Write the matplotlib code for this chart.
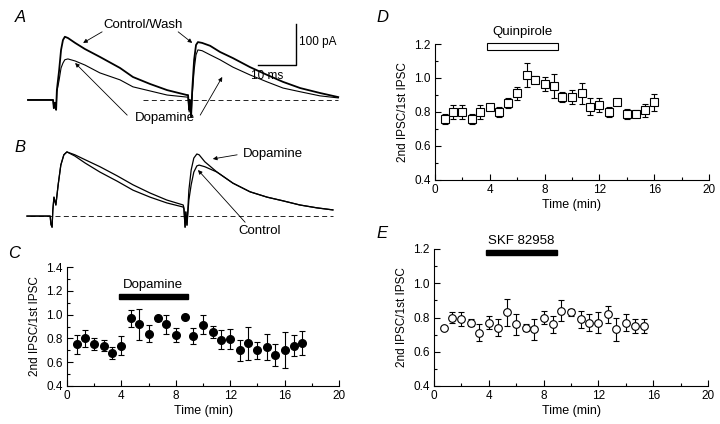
import numpy as np
import matplotlib
matplotlib.use('Agg')
from matplotlib import pyplot as plt
from matplotlib.patches import Rectangle

plt.rcParams['font.family'] = ['Liberation Sans', 'DejaVu Sans']
plt.rcParams['font.size'] = 8.5

# ---- traces (ms, pA) ----
tA = [0, 5.8, 6.6, 6.8, 7.1, 7.4, 7.6, 8.2, 8.7, 9.2, 9.7, 10.5, 12.4, 15.0, 18.9, 24.2, 27.6,
      32.1, 36.6, 41.8, 42.1, 42.4, 42.6, 42.9, 43.2, 43.7, 44.2, 44.7, 45.8, 47.9, 50.5, 53.9,
      58.4, 62.9, 67.1, 71.6, 76.8, 81.6]
a_control = [0, 0, 0, -20, -7, -24, 24, 73, 122, 146, 154, 151, 139, 124, 105, 78, 56,
             39, 24, 12, 12, -24, 0, -41, 24, 98, 134, 141, 139, 132, 117, 102,
             80, 61, 44, 29, 17, 7]
a_dopamine = [0, 0, 0, -20, -7, -24, 20, 49, 78, 90, 98, 100, 95, 85, 66, 49, 32,
              22, 12, 7, 7, -29, -5, -41, 12, 73, 110, 122, 120, 110, 98, 80,
              61, 44, 29, 20, 10, 5]

tB = [0, 5.5, 6.1, 6.3, 6.6, 6.8, 7.1, 7.6, 8.2, 8.9, 9.7, 10.5, 12.6, 15.3, 19.2, 23.7, 27.9,
      32.4, 36.8, 41.1, 41.3, 41.6, 41.8, 42.1, 42.6, 43.2, 43.9, 44.7, 45.3, 46.8, 50.0, 54.2,
      58.7, 63.2, 67.4, 71.8, 76.3, 80.5]
b_control = [0, 0, 0, -20, -27, 15, 46, 27, 76, 124, 149, 156, 149, 137, 120, 98, 76,
             56, 39, 27, 20, -27, 10, -22, 39, 76, 107, 122, 124, 120, 107, 80,
             59, 46, 37, 27, 20, 15]
b_dopamine = [0, 0, 0, -20, -27, 15, 46, 27, 76, 124, 149, 156, 146, 129, 107, 85, 63,
              46, 32, 22, 17, -27, 10, -22, 63, 112, 141, 151, 149, 132, 107, 80,
              59, 46, 37, 27, 20, 15]

# ---- paired-pulse ratios (min) ----
c_time = [0.7, 1.3, 2.0, 2.7, 3.3, 4.0, 4.7, 5.3, 6.0, 6.7, 7.3, 8.0, 8.7,
          9.3, 10.0, 10.7, 11.3, 12.0, 12.7, 13.3, 14.0, 14.7, 15.3, 16.0, 16.7, 17.3]
c_ratio = [0.75, 0.80, 0.75, 0.74, 0.68, 0.74, 0.97, 0.92, 0.84, 0.97, 0.92, 0.83, 0.98,
           0.82, 0.915, 0.855, 0.79, 0.795, 0.70, 0.76, 0.70, 0.73, 0.66, 0.705, 0.74, 0.76]
c_err = [0.08, 0.07, 0.05, 0.05, 0.05, 0.08, 0.07, 0.13, 0.07, 0.02, 0.08, 0.06, 0.02,
         0.07, 0.08, 0.05, 0.08, 0.08, 0.09, 0.14, 0.07, 0.11, 0.09, 0.15, 0.09, 0.10]

d_time = [0.7, 1.3, 2.0, 2.7, 3.3, 4.0, 4.7, 5.3, 6.0, 6.7, 7.3, 8.0,
          8.7, 9.3, 10.0, 10.7, 11.3, 12.0, 12.7, 13.3, 14.0, 14.7, 15.3, 16.0]
d_ratio = [0.76, 0.80, 0.80, 0.76, 0.80, 0.83, 0.80, 0.855, 0.91, 1.02, 0.99, 0.965,
           0.955, 0.89, 0.89, 0.91, 0.83, 0.84, 0.80, 0.86, 0.79, 0.79, 0.81, 0.857]
d_err = [0.03, 0.04, 0.04, 0.03, 0.04, 0.01, 0.03, 0.03, 0.04, 0.07, 0.02, 0.04,
         0.07, 0.03, 0.04, 0.06, 0.05, 0.04, 0.03, 0.01, 0.03, 0.02, 0.04, 0.05]

e_time = [0.7, 1.3, 2.0, 2.7, 3.3, 4.0, 4.7, 5.3, 6.0, 6.7, 7.3, 8.0,
          8.7, 9.3, 10.0, 10.7, 11.3, 12.0, 12.7, 13.3, 14.0, 14.7, 15.3]
e_ratio = [0.74, 0.80, 0.79, 0.77, 0.71, 0.77, 0.74, 0.83, 0.76, 0.74, 0.73, 0.80,
           0.76, 0.84, 0.83, 0.79, 0.77, 0.77, 0.82, 0.73, 0.77, 0.75, 0.75]
e_err = [0.01, 0.034, 0.04, 0.02, 0.05, 0.04, 0.05, 0.08, 0.06, 0.02, 0.06, 0.04,
         0.05, 0.06, 0.02, 0.05, 0.05, 0.06, 0.05, 0.07, 0.05, 0.04, 0.04]

drug_on, drug_off = 3.8, 8.9

W, H = 720, 424
fig = plt.figure(figsize=(W / 100, H / 100), dpi=100)


def px(l, t, r, b):
    return [l / W, 1 - b / H, (r - l) / W, (b - t) / H]


# ---------- A ----------
axA = fig.add_axes(px(20, 15, 350, 125))
axA.axis('off')
axA.set_xlim(-2.1, 84.7)
axA.set_ylim(-61, 207)
axA.plot(tA, a_control, color='k', lw=1.3)
axA.plot(tA, a_dopamine, color='k', lw=0.8)
axA.plot([30.3, 81.6], [0, 0], color='k', lw=0.6, ls=(0, (6, 4)))
# scale bar
axA.plot([60.5, 70.5, 70.5], [85, 85, 185], color='k', lw=1)
axA.text(71.3, 140, '100 pA', ha='left', va='center', fontsize=8.5)
axA.text(62.9, 73, '10 ms', ha='center', va='top', fontsize=8.5)
arr = dict(arrowstyle='-|>', lw=0.6, color='k', mutation_scale=6, shrinkA=0, shrinkB=0)
axA.text(30.3, 183, 'Control/Wash', ha='center', va='center', fontsize=9.5)
axA.annotate('', xy=(14.5, 139), xytext=(19.5, 166), arrowprops=arr)
axA.annotate('', xy=(43.2, 139), xytext=(39.5, 166), arrowprops=arr)
axA.text(36.1, -44, 'Dopamine', ha='center', va='center', fontsize=9.5)
axA.annotate('', xy=(12.4, 90), xytext=(26.1, -37), arrowprops=arr)
axA.annotate('', xy=(51.1, 56), xytext=(45.3, -37), arrowprops=arr)

# ---------- B ----------
axB = fig.add_axes(px(20, 140, 350, 235))
axB.axis('off')
axB.set_xlim(-1.84, 85.0)
axB.set_ylim(-46, 185)
axB.plot(tB, b_control, color='k', lw=0.9)
axB.plot(tB, b_dopamine, color='k', lw=0.9)
axB.plot([0.8, 80.5], [0, 0], color='k', lw=0.6, ls=(0, (6, 4)))
axB.text(56.8, 151, 'Dopamine', ha='left', va='center', fontsize=9.5)
axB.annotate('', xy=(48.9, 139), xytext=(55.3, 149), arrowprops=arr)
axB.text(61.3, -36, 'Control', ha='center', va='center', fontsize=9.5)
axB.annotate('', xy=(45, 112), xytext=(57.4, -15), arrowprops=arr)

for lbl, x, y in [('A', 20, 17), ('B', 20, 147), ('C', 14, 253), ('D', 382, 17), ('E', 382, 233)]:
    fig.text(x / W, 1 - y / H, lbl, fontsize=12, style='italic', ha='center', va='center')


def ratio_axes(rect, ymax):
    ax = fig.add_axes(rect)
    ax.set_xlim(0, 20)
    ax.set_ylim(0.4, ymax)
    ax.set_xticks(np.arange(0, 21, 4))
    ax.set_xticks(np.arange(2, 20, 4), minor=True)
    ax.set_yticks(np.arange(0.4, ymax + 0.01, 0.2))
    ax.set_yticks(np.arange(0.5, ymax, 0.2), minor=True)
    ax.yaxis.set_major_formatter(matplotlib.ticker.FormatStrFormatter('%.1f'))
    ax.tick_params(direction='in', length=4, width=0.8, labelsize=8.5, pad=3)
    ax.tick_params(which='minor', direction='in', length=2.5, width=0.8)
    for s in ['top', 'right']:
        ax.spines[s].set_visible(False)
    for s in ['left', 'bottom']:
        ax.spines[s].set_linewidth(0.8)
    ax.set_xlabel('Time (min)', fontsize=9, labelpad=2)
    ax.set_ylabel('2nd IPSC/1st IPSC', fontsize=8.5, labelpad=4)
    return ax


# ---------- C ----------
axC = ratio_axes(px(67, 267, 339, 386), 1.4)
axC.errorbar(c_time, c_ratio, yerr=c_err, fmt='o', color='k', ms=5.5, capsize=2,
             elinewidth=0.8, capthick=0.8)
axC.add_patch(Rectangle((drug_on, 1.135), drug_off - drug_on, 0.04, color='k', clip_on=False))
axC.text((drug_on + drug_off) / 2, 1.245, 'Dopamine', ha='center', va='center', fontsize=9.5)

# ---------- D ----------
axD = ratio_axes(px(435, 44, 709, 180), 1.2)
axD.errorbar(d_time, d_ratio, yerr=d_err, fmt='s', color='k', mfc='white', ms=5.5,
             mew=0.8, capsize=2, elinewidth=0.8, capthick=0.8)
axD.add_patch(Rectangle((drug_on, 1.167), 9.0 - drug_on, 0.038, fc='white', ec='k',
                        lw=0.8, clip_on=False))
axD.text(6.4, 1.27, 'Quinpirole', ha='center', va='center', fontsize=9.5)

# ---------- E ----------
axE = ratio_axes(px(434, 249, 708, 386), 1.2)
axE.errorbar(e_time, e_ratio, yerr=e_err, fmt='o', color='k', mfc='white', ms=5.5,
             mew=0.8, capsize=2, elinewidth=0.8, capthick=0.8)
axE.add_patch(Rectangle((drug_on, 1.164), 9.0 - drug_on, 0.03, color='k', clip_on=False))
axE.text(6.4, 1.245, 'SKF 82958', ha='center', va='center', fontsize=9.5)

fig.savefig('out.png', dpi=100)
